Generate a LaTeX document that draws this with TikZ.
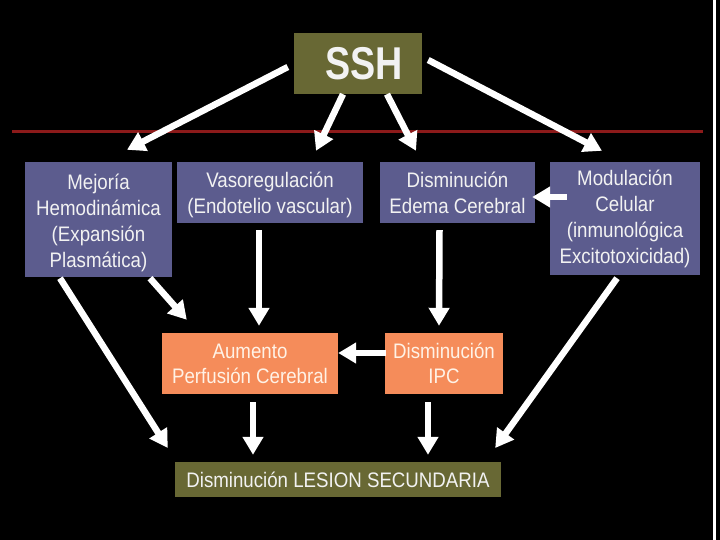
\documentclass[tikz,border=0pt]{standalone}
\usepackage{fontspec}
\setmainfont[FakeStretch=0.89]{Liberation Sans}
\newfontfamily\sshfont[FakeStretch=0.82]{Liberation Sans}
\usetikzlibrary{arrows.meta}
\definecolor{bluebox}{HTML}{5C5C8E}
\definecolor{orangebox}{HTML}{F58C5A}
\definecolor{olivebox}{HTML}{686834}
\definecolor{redline}{HTML}{8C1A1A}
\definecolor{txt}{HTML}{F2F2F2}
\definecolor{txtor}{HTML}{FFF2E6}
\newcommand{\lowered}[2]{\raisebox{-#1}[\height][\depth]{\begin{tabular}{@{}c@{}}#2\end{tabular}}}
\tikzset{
  box/.style={rectangle, inner sep=0pt, align=center, font=\fontsize{21}{26}\selectfont, text=txt},
  bluenode/.style={box, fill=bluebox},
  orangenode/.style={box, fill=orangebox, text=txtor, font=\fontsize{21}{25}\selectfont},
  olivenode/.style={box, fill=olivebox},
  arr/.style={draw=white, line width=6.5pt, -{Triangle[width=20pt,length=18pt]}},
}
\begin{document}
\begin{tikzpicture}[x=1pt,y=-1pt]
\fill[black] (0,0) rectangle (720,540);
\useasboundingbox (0,0) rectangle (720,540);
\draw[white, line width=2.5pt] (714.5,0) -- (714.5,540);
\draw[redline, line width=3pt] (12,132) -- (703,132);

\node[olivenode, minimum width=128pt, minimum height=61pt] (ssh) at (358,63.5) {\hspace*{12pt}\sshfont\bfseries\fontsize{46}{46}\selectfont SSH};

\node[bluenode, minimum width=147pt, minimum height=115pt] (mej) at (98.5,219.5) {\lowered{4pt}{Mejoría\\Hemodinámica\\(Expansión\\Plasmática)}};
\node[bluenode, minimum width=186pt, minimum height=61pt] (vaso) at (270,192.5) {\lowered{3pt}{Vasoregulación\\(Endotelio vascular)}};
\node[bluenode, minimum width=155pt, minimum height=61pt] (ede) at (457.5,192.5) {Disminución\\Edema Cerebral};
\node[bluenode, minimum width=150pt, minimum height=113pt] (mod) at (625,218.5) {Modulación\\Celular\\(inmunológica\\Excitotoxicidad)};

\node[orangenode, minimum width=176pt, minimum height=61pt] (aum) at (250,363.5) {Aumento\\Perfusión Cerebral};
\node[orangenode, minimum width=118pt, minimum height=61pt] (ipc) at (444,363.5) {Disminución\\IPC};

\node[olivenode, minimum width=326pt, minimum height=35pt] (les) at (338,479.5) {Disminución LESION SECUNDARIA};

% arrows from SSH
\draw[arr] ([xshift=-6pt,yshift=-3.5pt]ssh.west) -- ([xshift=28.5pt,yshift=12pt]mej.north);
\draw[arr] ([xshift=-15pt]ssh.south) -- ([xshift=46pt,yshift=11pt]vaso.north);
\draw[arr] ([xshift=29pt]ssh.south) -- ([xshift=-41.5pt,yshift=11pt]ede.north);
\draw[arr] ([xshift=6pt,yshift=3.5pt]ssh.east) -- ([xshift=-23pt,yshift=11pt]mod.north);

% middle arrows
\draw[arr] ([xshift=-11pt,yshift=-7pt]vaso.south) -- ([xshift=9pt,yshift=7pt]aum.north);
\draw[arr] ([xshift=-18pt,yshift=-7pt]ede.south) -- ([xshift=-5pt,yshift=7pt]ipc.north);
\draw[arr] ([xshift=17pt,yshift=21.5pt]mod.west) -- ([xshift=-3pt,yshift=-4.5pt]ede.east);
\draw[arr] ([xshift=1pt,yshift=10.5pt]ipc.west) -- ([yshift=10.5pt]aum.east);
\draw[arr] ([xshift=51.5pt,yshift=-1pt]mej.south) -- ([xshift=25pt,yshift=13pt]aum.north west);

% to lesion
\draw[arr] ([xshift=3pt,yshift=-8pt]aum.south) -- ([xshift=-85pt,yshift=7pt]les.north);
\draw[arr] ([xshift=-16pt,yshift=-8pt]ipc.south) -- ([xshift=90pt,yshift=7pt]les.north);
\draw[arr] ([xshift=-38.5pt,yshift=-1pt]mej.south) -- ([xshift=-7pt,yshift=31.5pt]les.west);
\draw[arr] ([xshift=-8pt,yshift=-3pt]mod.south) -- ([xshift=-6pt,yshift=31.5pt]les.east);
\end{tikzpicture}
\end{document}
